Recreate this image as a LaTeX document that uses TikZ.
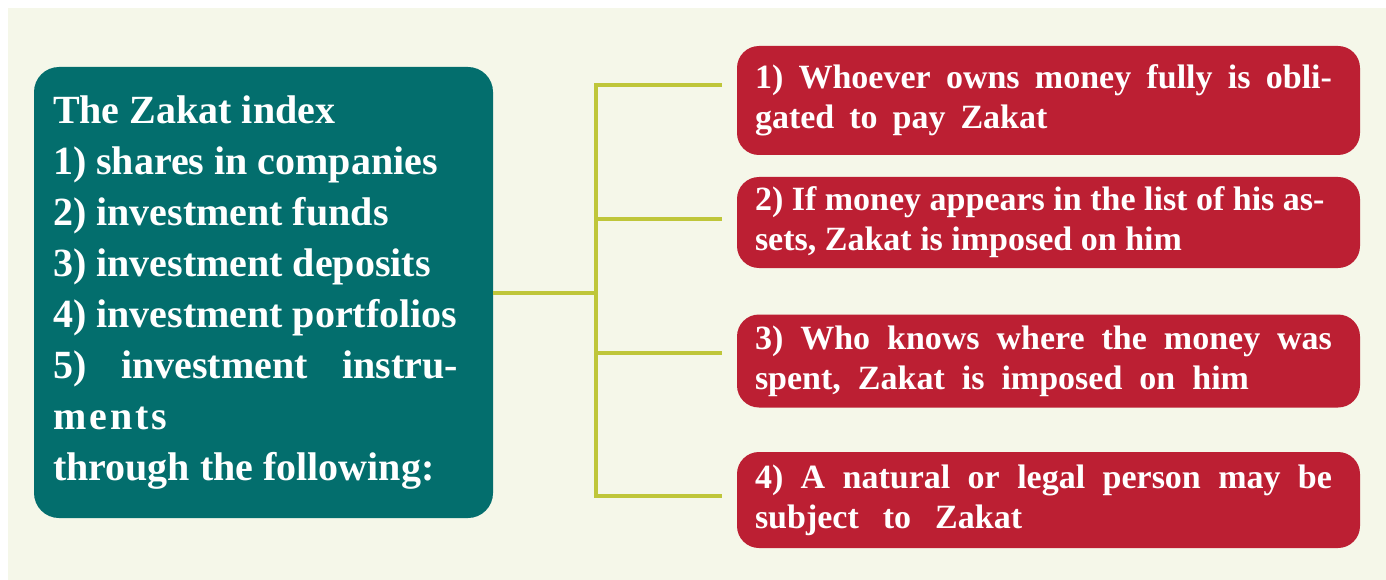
\documentclass[tikz,border=0pt]{standalone}
\usepackage{fontspec}
\setmainfont{Liberation Serif}
\definecolor{zakatbg}{HTML}{F5F7E9}
\definecolor{zakatteal}{HTML}{036E6D}
\definecolor{zakatred}{HTML}{BC1F33}
\definecolor{zakatline}{HTML}{BFC63A}
\newcommand{\fontgaps}{\spaceskip=0pt\xspaceskip=0pt\relax}
\newcommand{\fullline}[2][577pt]{{\spaceskip=.25em plus 1fil\xspaceskip=\spaceskip\makebox[#1][s]{#2}}}

\begin{document}
\begin{tikzpicture}[x=1pt,y=-1pt,
    link/.style = {zakatline,line width=4pt},
    indexbox/.style = {fill=zakatteal,text=white,rounded corners=25pt,minimum width=459pt,minimum height=451pt,
                       inner xsep=19pt,text width=421pt,align=left,font=\bfseries\fontsize{40}{51}\selectfont},
    rulebox/.style = {fill=zakatred,text=white,rounded corners=22pt,minimum width=623pt,
                      inner xsep=18pt,text width=587pt,align=left,font=\bfseries\fontsize{34}{40}\selectfont}]
                        \useasboundingbox (0,0) rectangle (1386,580);
                        \fill[zakatbg] (8,8) rectangle (1386,580);

                        \node[indexbox] (zakat) at (263.5,292.5) {\fontgaps The Zakat index\\
                            1) shares in companies\\
                            2) investment funds\\
                            3) investment deposits\\
                            4) investment portfolios\\
                            \fullline[405pt]{5) investment instru-}\\
                            m\kern3pt e\kern3pt n\kern3pt t\kern3pt s\\
                            through the following:};

                        \node[rulebox,minimum height=109pt] (rule1) at (1048.5,100.5) {\fullline{1) Whoever owns money fully is obli-}\\
                            {\spaceskip=15pt gated to pay Zakat}};
                        \node[rulebox,minimum height=91pt] (rule2) at (1048.5,222.5) {\fontgaps\fullline[569pt]{2) If money appears in the list of his as-}\\
                            sets, Zakat is imposed on him};
                        \node[rulebox,minimum height=93pt] (rule3) at (1048.5,361) {\fullline{3) Who knows where the money was}\\
                            {\spaceskip=17pt spent, Zakat is imposed on him}};
                        \node[rulebox,minimum height=96pt] (rule4) at (1048.5,500) {\fullline{4) A natural or legal person may be}\\
                            {\spaceskip=24pt subject to Zakat}};

                        % spine and branches
                        \coordinate (hub) at (596,292.5);
                        \coordinate (top) at (596,85);
                        \coordinate (mid2) at (596,219);
                        \coordinate (mid3) at (596,353);
                        \coordinate (bottom) at (596,496);
                        \coordinate (end1) at (722,85);
                        \coordinate (end2) at (722,219);
                        \coordinate (end3) at (722,353);
                        \coordinate (end4) at (722,496);

                        \draw[link] (end1) -- (top) -- (bottom) -- (end4);
                        \draw[link] (mid2) -- (end2);
                        \draw[link] (mid3) -- (end3);
                        \draw[link] (zakat.east) -- (hub);
                    \end{tikzpicture}
\end{document}
